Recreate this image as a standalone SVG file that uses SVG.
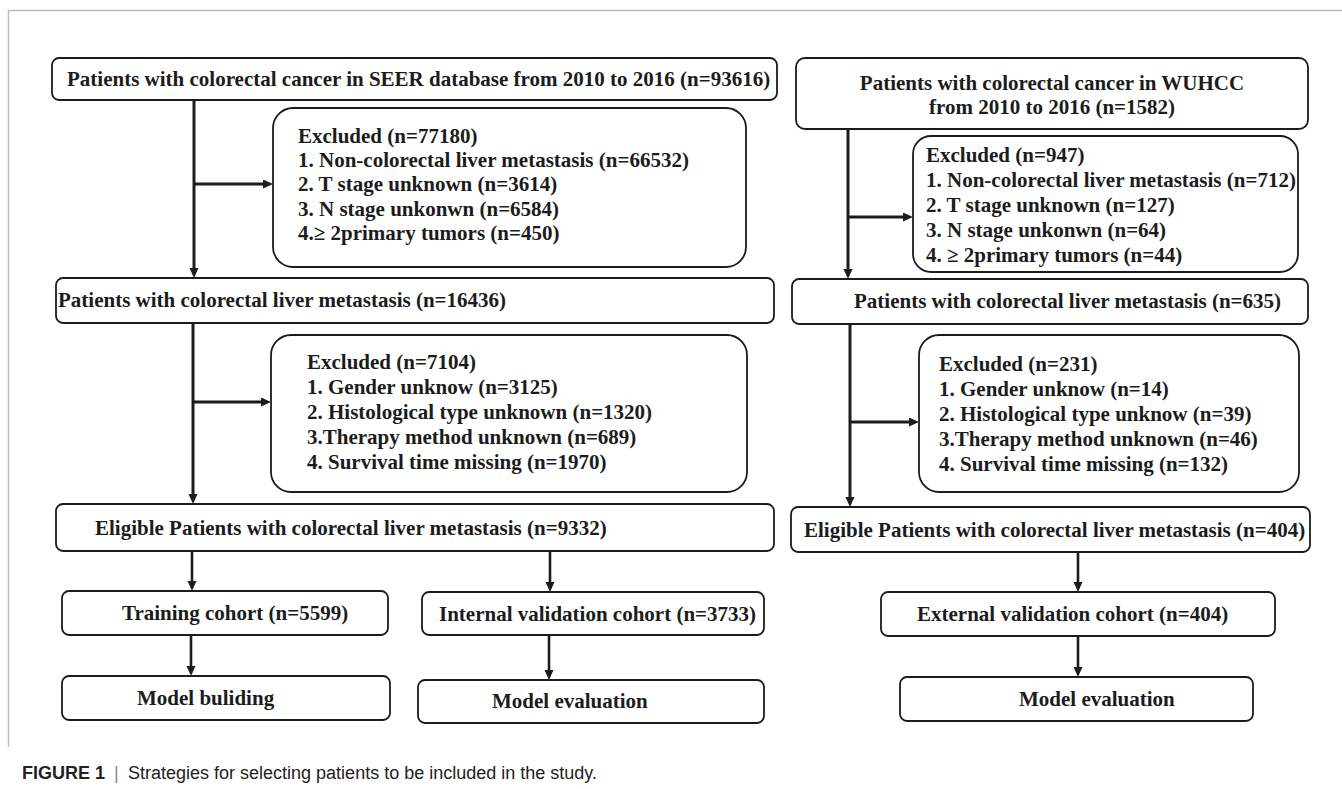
<svg xmlns="http://www.w3.org/2000/svg" width="1342" height="789" viewBox="0 0 1342 789">
<style>
.frame{stroke:#bdbdbd;stroke-width:1.5;fill:none}
.box{fill:#fff;stroke:#1c1c1c;stroke-width:1.8}
.t{font-family:"Liberation Serif","Times New Roman",serif;font-weight:bold;font-size:21px;fill:#1c1c1c}
.c{text-anchor:middle}
.ln{stroke:#1c1c1c;stroke-width:3;fill:none}
.ln2{stroke:#1c1c1c;stroke-width:2.6;fill:none}
.cap{font-family:"Liberation Sans",Arial,sans-serif;font-size:18px;fill:#222}
</style>
<defs>
<marker id="ah" markerUnits="userSpaceOnUse" markerWidth="12" markerHeight="10" refX="3" refY="4.5" orient="auto">
<path d="M0,0 L10,4.5 L0,9 z" fill="#1c1c1c"/>
</marker>
</defs>
<rect width="1342" height="789" fill="#fff"/>
<path class="frame" d="M8.5,747 V10.5 H1342"/>

<g id="connectors">
<line class="ln" x1="194" y1="100" x2="194" y2="271" marker-end="url(#ah)"/>
<line class="ln" x1="194" y1="184" x2="266" y2="184" marker-end="url(#ah)"/>
<line class="ln" x1="193" y1="323" x2="193" y2="497" marker-end="url(#ah)"/>
<line class="ln" x1="193" y1="402" x2="264" y2="402" marker-end="url(#ah)"/>
<line class="ln2" x1="192" y1="551" x2="192" y2="584" marker-end="url(#ah)"/>
<line class="ln2" x1="550" y1="551" x2="550" y2="585" marker-end="url(#ah)"/>
<line class="ln2" x1="191" y1="635" x2="191" y2="669" marker-end="url(#ah)"/>
<line class="ln2" x1="549" y1="635" x2="549" y2="673" marker-end="url(#ah)"/>
<line class="ln" x1="848" y1="129" x2="848" y2="272" marker-end="url(#ah)"/>
<line class="ln" x1="848" y1="217" x2="906" y2="217" marker-end="url(#ah)"/>
<line class="ln" x1="850" y1="324" x2="850" y2="500" marker-end="url(#ah)"/>
<line class="ln" x1="850" y1="422" x2="912" y2="422" marker-end="url(#ah)"/>
<line class="ln2" x1="1078" y1="552" x2="1078" y2="585" marker-end="url(#ah)"/>
<line class="ln2" x1="1078" y1="636" x2="1078" y2="670" marker-end="url(#ah)"/>
</g>

<g id="seer">
<rect class="box" x="52" y="58" width="725" height="42" rx="7"/>
<text class="t" x="67" y="86">Patients with colorectal cancer in SEER database from 2010 to 2016 (n=93616)</text>
</g>
<g id="excl-seer-1">
<rect class="box" x="273" y="108" width="473" height="159" rx="20"/>
<text class="t" x="298" y="143">Excluded (n=77180)</text>
<text class="t" x="298" y="167">1. Non-colorectal liver metastasis (n=66532)</text>
<text class="t" x="298" y="191">2. T stage unknown (n=3614)</text>
<text class="t" x="298" y="216">3. N stage unkonwn (n=6584)</text>
<text class="t" x="298" y="240">4.≥ 2primary tumors (n=450)</text>
</g>
<g id="seer-clm">
<rect class="box" x="56" y="278" width="718" height="45" rx="7"/>
<text class="t" x="58" y="307">Patients with colorectal liver metastasis (n=16436)</text>
</g>
<g id="excl-seer-2">
<rect class="box" x="271" y="335" width="476" height="157" rx="20"/>
<text class="t" x="307" y="369">Excluded (n=7104)</text>
<text class="t" x="307" y="394">1. Gender  unknow (n=3125)</text>
<text class="t" x="307" y="419">2. Histological type unknown (n=1320)</text>
<text class="t" x="307" y="444">3.Therapy method unknown (n=689)</text>
<text class="t" x="307" y="469">4. Survival time missing (n=1970)</text>
</g>
<g id="seer-eligible">
<rect class="box" x="56" y="504" width="718" height="47" rx="7"/>
<text class="t" x="95" y="535">Eligible Patients with colorectal liver metastasis (n=9332)</text>
</g>
<g id="training">
<rect class="box" x="62" y="591" width="326" height="44" rx="7"/>
<text class="t" x="122" y="620">Training cohort (n=5599)</text>
</g>
<g id="internal">
<rect class="box" x="422" y="592" width="342" height="43" rx="7"/>
<text class="t" x="439" y="621">Internal validation cohort (n=3733)</text>
</g>
<g id="model-building">
<rect class="box" x="62" y="676" width="328" height="44" rx="7"/>
<text class="t" x="137" y="705">Model buliding</text>
</g>
<g id="model-eval-left">
<rect class="box" x="418" y="680" width="346" height="43" rx="7"/>
<text class="t" x="492" y="708">Model evaluation</text>
</g>

<g id="wuhcc">
<rect class="box" x="796" y="58" width="512" height="71" rx="9"/>
<text class="t c" x="1052" y="90">Patients with colorectal cancer in WUHCC</text>
<text class="t c" x="1052" y="114">from 2010 to 2016 (n=1582)</text>
</g>
<g id="excl-wuhcc-1">
<rect class="box" x="913" y="136" width="385" height="136" rx="18"/>
<text class="t" x="926" y="162">Excluded (n=947)</text>
<text class="t" x="926" y="187">1. Non-colorectal liver metastasis (n=712)</text>
<text class="t" x="926" y="212">2. T stage unknown (n=127)</text>
<text class="t" x="926" y="237">3. N stage unkonwn (n=64)</text>
<text class="t" x="926" y="262">4. ≥ 2primary tumors (n=44)</text>
</g>
<g id="wuhcc-clm">
<rect class="box" x="792" y="279" width="516" height="45" rx="7"/>
<text class="t" x="854" y="308">Patients with colorectal liver metastasis (n=635)</text>
</g>
<g id="excl-wuhcc-2">
<rect class="box" x="919" y="335" width="380" height="157" rx="20"/>
<text class="t" x="939" y="371">Excluded (n=231)</text>
<text class="t" x="939" y="396">1. Gender  unknow (n=14)</text>
<text class="t" x="939" y="421">2. Histological type unknow (n=39)</text>
<text class="t" x="939" y="446">3.Therapy method unknown (n=46)</text>
<text class="t" x="939" y="471">4. Survival time missing (n=132)</text>
</g>
<g id="wuhcc-eligible">
<rect class="box" x="791" y="507" width="519" height="45" rx="7"/>
<text class="t" x="804" y="537">Eligible Patients with colorectal liver metastasis (n=404)</text>
</g>
<g id="external">
<rect class="box" x="881" y="592" width="394" height="44" rx="7"/>
<text class="t" x="917" y="621">External validation cohort (n=404)</text>
</g>
<g id="model-eval-right">
<rect class="box" x="900" y="677" width="353" height="44" rx="7"/>
<text class="t" x="1019" y="706">Model evaluation</text>
</g>

<g id="caption">
<text class="cap" x="22" y="779"><tspan font-weight="bold">FIGURE 1</tspan><tspan x="114" fill="#888">|</tspan><tspan x="128">Strategies for selecting patients to be included in the study.</tspan></text>
</g>
</svg>
